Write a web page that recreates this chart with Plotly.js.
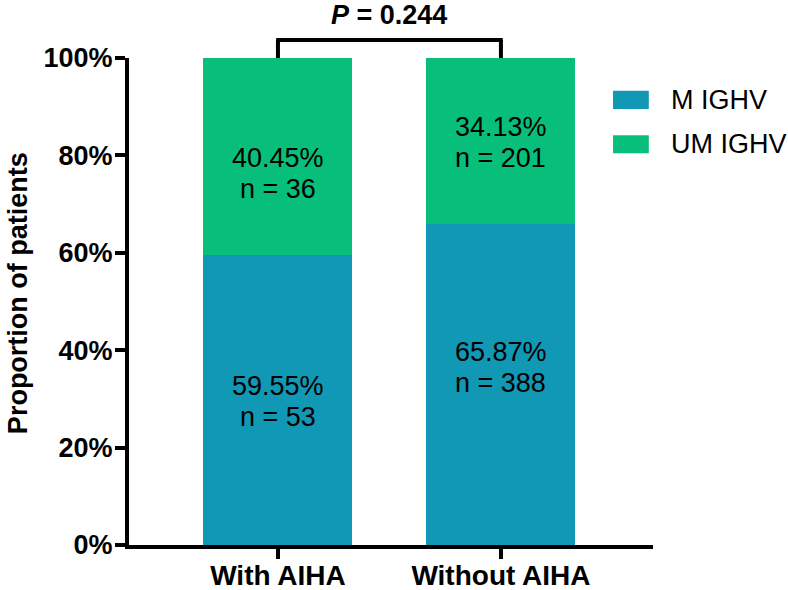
<!DOCTYPE html>
<html>
<head>
<meta charset="utf-8">
<script src="https://cdn.plot.ly/plotly-3.0.1.min.js"></script>
<style>html,body{margin:0;padding:0;background:#fff;}#chart{width:788px;height:590px;}</style>
</head>
<body>
<div id="chart"></div>
<script>
const categories = ["With AIHA", "Without AIHA"];
const seriesNames = ["M IGHV", "UM IGHV"];
const mPercent = [59.55, 65.87];
const umPercent = [40.45, 34.13];
const mCount = [53, 388];
const umCount = [36, 201];
const yTickVals = [0, 20, 40, 60, 80, 100];
const yTickText = ["0%", "20%", "40%", "60%", "80%", "100%"];
const pValueText = "0.244";
const yTitleText = "Proportion of patients";

const TEAL = "#1198b4";
const GREEN = "#07bf7a";
const FONT = "Liberation Sans, Arial, Helvetica, sans-serif";
const LABEL_SIZE = 27;
const HALF_LINE = 15.5;

const traces = [
  {type: "bar", name: seriesNames[0], x: categories, y: mPercent, marker: {color: TEAL, line: {width: 0}}, width: 0.668, hoverinfo: "skip", showlegend: false},
  {type: "bar", name: seriesNames[1], x: categories, y: umPercent, marker: {color: GREEN, line: {width: 0}}, width: 0.668, hoverinfo: "skip", showlegend: false}
];

const annotations = [];
const shiftsM = [-1, 17];
const shiftsUM = [-17, -1];
function addLabel(cat, yVal, shift, line1, line2) {
  annotations.push({xref: "x", yref: "y", x: cat, y: yVal, yshift: shift + HALF_LINE, yanchor: "middle",
    text: line1, showarrow: false, font: {family: FONT, size: LABEL_SIZE, color: "#000"}});
  annotations.push({xref: "x", yref: "y", x: cat, y: yVal, yshift: shift - HALF_LINE, yanchor: "middle",
    text: line2, showarrow: false, font: {family: FONT, size: LABEL_SIZE, color: "#000"}});
}
categories.forEach((c, i) => {
  addLabel(c, mPercent[i] / 2, shiftsM[i], mPercent[i].toFixed(2) + "%", "n = " + mCount[i]);
  addLabel(c, mPercent[i] + umPercent[i] / 2, shiftsUM[i], umPercent[i].toFixed(2) + "%", "n = " + umCount[i]);
});
annotations.push({xref: "x", yref: "paper", x: 0.5, y: 1.088, yanchor: "middle", text: "<b><i>P</i> = " + pValueText + "</b>",
  showarrow: false, font: {family: FONT, size: 27, color: "#000"}});
// y axis title
annotations.push({xref: "paper", yref: "paper", x: -0.212, y: 0.517, xanchor: "center", yanchor: "middle", textangle: -90,
  text: "<b>" + yTitleText + "</b>", showarrow: false, font: {family: FONT, size: 27, color: "#000"}});

const shapes = [
  {type: "line", xref: "x", yref: "paper", x0: 0, x1: 0, y0: 1.0, y1: 1.037, line: {color: "#000", width: 4}},
  {type: "line", xref: "x", yref: "paper", x0: 1, x1: 1, y0: 1.0, y1: 1.037, line: {color: "#000", width: 4}},
  {type: "line", xref: "x", yref: "paper", x0: -0.008, x1: 1.008, y0: 1.037, y1: 1.037, line: {color: "#000", width: 4}}
];

// custom legend
const legendColors = [TEAL, GREEN];
const legendY = [0.914, 0.823];
seriesNames.forEach((n, i) => {
  shapes.push({type: "rect", xref: "paper", yref: "paper", x0: 0.9237, x1: 0.992, y0: legendY[i] - 0.0185, y1: legendY[i] + 0.0185,
    fillcolor: legendColors[i], line: {width: 0}});
  annotations.push({xref: "paper", yref: "paper", x: 1.0305, y: legendY[i], xanchor: "left", yanchor: "middle",
    text: n, showarrow: false, font: {family: FONT, size: 27, color: "#000"}});
});

const layout = {
  width: 788, height: 590,
  margin: {l: 129, r: 135, t: 58, b: 45},
  paper_bgcolor: "#fff", plot_bgcolor: "#fff",
  barmode: "stack",
  showlegend: false,
  font: {family: FONT, color: "#000"},
  xaxis: {
    type: "category", range: [-0.668, 1.682],
    showline: true, linecolor: "#000", linewidth: 4,
    ticks: "outside", ticklen: 10, tickwidth: 4, tickcolor: "#000",
    ticklabelstandoff: -8,
    tickfont: {family: FONT, size: 28, color: "#000", weight: "bold"},
    showgrid: false, zeroline: false, fixedrange: true, automargin: false
  },
  yaxis: {
    range: [0, 100], tickvals: yTickVals, ticktext: yTickText,
    showline: true, linecolor: "#000", linewidth: 4,
    ticks: "outside", ticklen: 10, tickwidth: 4, tickcolor: "#000",
    ticklabelstandoff: -3,
    tickfont: {family: FONT, size: 27, color: "#000", weight: "bold"},
    showgrid: false, zeroline: false, fixedrange: true, automargin: false
  },
  annotations: annotations,
  shapes: shapes
};

Plotly.newPlot("chart", traces, layout, {staticPlot: true, displayModeBar: false});
</script>
</body>
</html>
